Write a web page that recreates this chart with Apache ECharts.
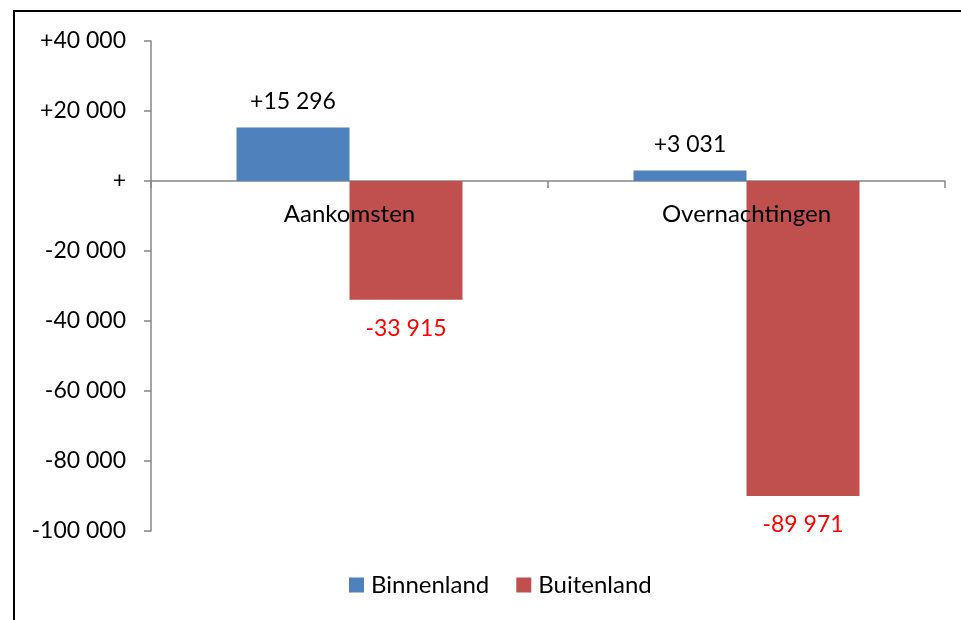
<!DOCTYPE html>
<html><head><meta charset="utf-8">
<script src="https://cdn.jsdelivr.net/npm/echarts@6/dist/echarts.min.js"></script>
<style>html,body{margin:0;padding:0;background:#fff}#c{width:961px;height:620px}</style>
</head><body><div id="c"></div>
<script>
var categories = ['Aankomsten', 'Overnachtingen'];
var binnenland = [15296, 3031];
var buitenland = [-33915, -89971];
var seriesNames = ['Binnenland', 'Buitenland'];

function fmt(v) {
  var a = Math.abs(v);
  var s = String(a).replace(/\B(?=(\d{3})+(?!\d))/g, ' ');
  if (v > 0) return '+' + s;
  if (v < 0) return '-' + s;
  return '+';
}
var FONT = 'Lato';
var chart = echarts.init(document.getElementById('c'));
chart.setOption({
  animation: false,
  textStyle: { fontFamily: FONT },
  graphic: [{
    type: 'rect', shape: { x: 14, y: 11, width: 1000, height: 700 },
    style: { fill: 'none', stroke: '#000', lineWidth: 2 }, silent: true
  }],
  grid: { left: 151, right: 16, top: 41, bottom: 89 },
  legend: {
    top: 568, left: 344, itemWidth: 15, itemHeight: 15, itemGap: 27,
    icon: 'rect', data: seriesNames,
    textStyle: { fontFamily: FONT, fontSize: 24, color: '#000', padding: [0, 0, 0, 2] }
  },
  xAxis: [{
    type: 'category', data: categories,
    axisLine: { onZero: true, lineStyle: { color: '#868686', width: 1.5 } },
    axisTick: { show: true, length: 7, lineStyle: { color: '#868686', width: 1.5 } },
    axisLabel: { show: false }
  }, {
    type: 'category', data: categories, position: 'bottom', offset: -337, z: 20,
    axisLine: { show: false }, axisTick: { show: false },
    axisLabel: { fontFamily: FONT, fontSize: 24, color: '#000', margin: 8 }
  }],
  yAxis: {
    type: 'value', min: -100000, max: 40000, interval: 20000,
    axisLine: { show: true, lineStyle: { color: '#868686', width: 1.5 } },
    axisTick: { show: true, length: 7, lineStyle: { color: '#868686', width: 1.5 } },
    splitLine: { show: false },
    axisLabel: { fontFamily: FONT, fontSize: 23, color: '#000', margin: 25, formatter: fmt }
  },
  series: [
    {
      name: seriesNames[0], type: 'bar', data: binnenland, barWidth: 113, barGap: '0%',
      itemStyle: { color: '#4F81BD' },
      label: { show: true, position: 'top', distance: 14, fontFamily: FONT, fontSize: 23, color: '#000',
        formatter: function (p) { return fmt(p.value); } }
    },
    {
      name: seriesNames[1], type: 'bar', data: buitenland, barWidth: 113,
      itemStyle: { color: '#C0504D' },
      label: { show: true, position: 'bottom', distance: 17, fontFamily: FONT, fontSize: 23, color: '#FF0000',
        formatter: function (p) { return fmt(p.value); } }
    }
  ]
});
</script></body></html>
